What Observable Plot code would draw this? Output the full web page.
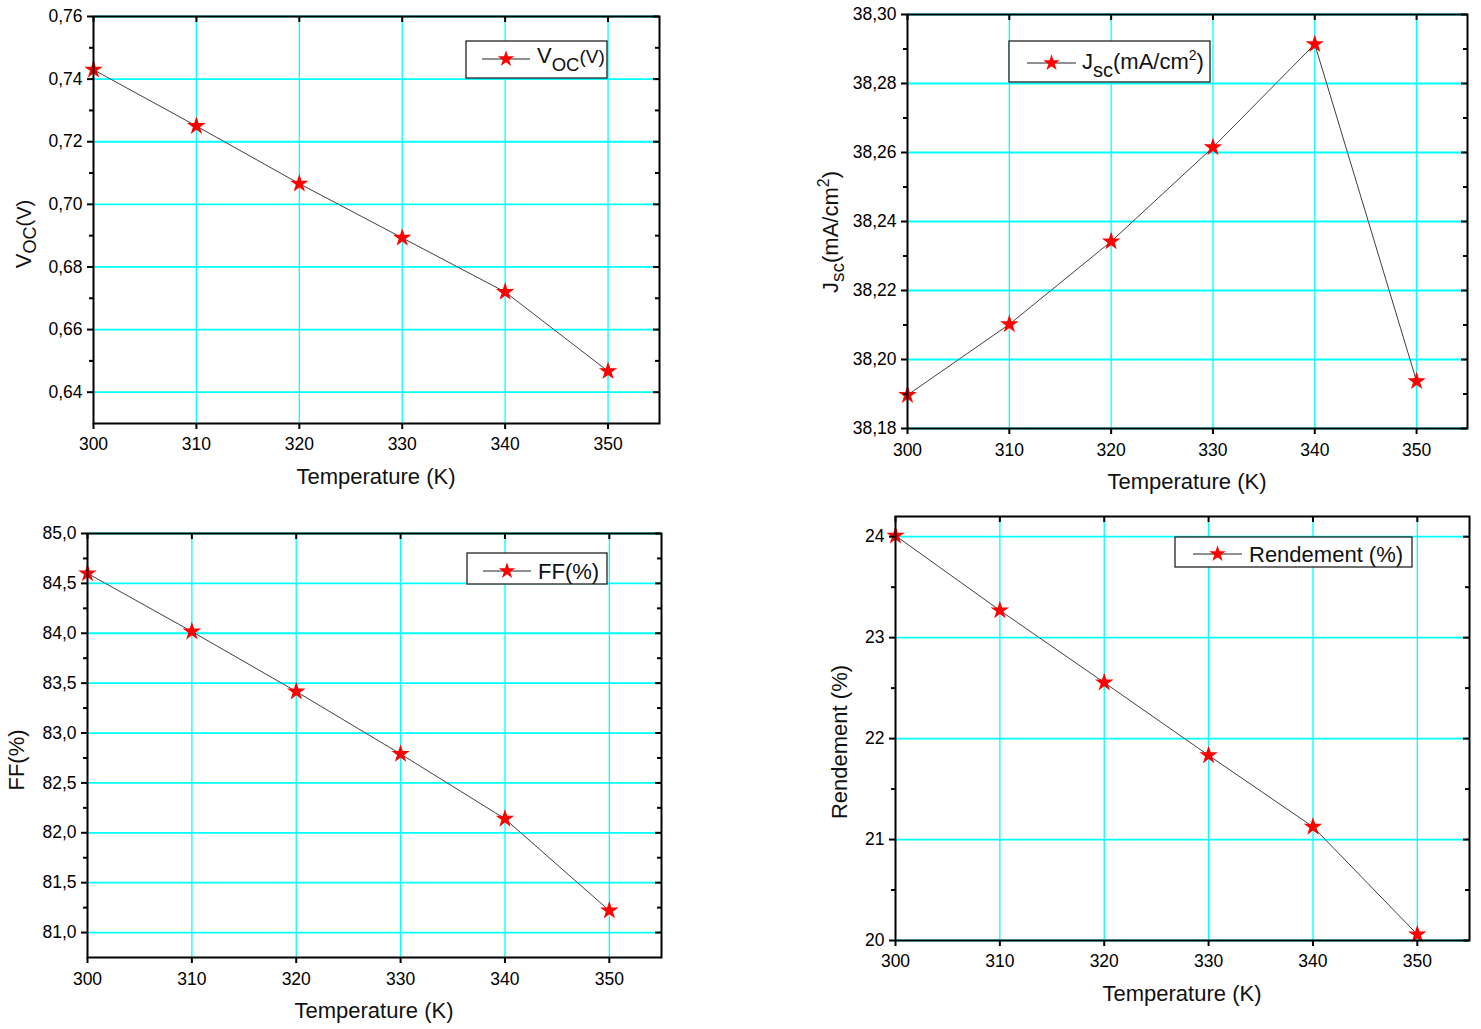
<!DOCTYPE html>
<html><head><meta charset="utf-8">
<script src="https://cdn.jsdelivr.net/npm/d3@7"></script>
<script src="https://cdn.jsdelivr.net/npm/@observablehq/plot@0.6"></script>
<style>
body{margin:0;background:#fff;}
#page{position:relative;width:1481px;height:1029px;overflow:hidden;background:#fff;}
.panel{position:absolute;}
.panel svg{overflow:visible;}
</style></head><body><div id="page"></div>
<script>
// ---- data ----
const temperatures = [300, 310, 320, 330, 340, 350];
const vocValues = [0.743, 0.725, 0.7066, 0.6893, 0.672, 0.6467];
const jscValues = [38.1897, 38.2102, 38.2342, 38.2615, 38.2914, 38.1937];
const ffValues = [84.60, 84.017, 83.416, 82.79, 82.14, 81.22];
const rendementValues = [24.01, 23.27, 22.555, 21.834, 21.126, 20.06];

const xTicks = [300, 310, 320, 330, 340, 350];
const vocTicks = [0.64, 0.66, 0.68, 0.70, 0.72, 0.74, 0.76];
const vocMinor = [0.65, 0.67, 0.69, 0.71, 0.73, 0.75];
const jscTicks = [38.18, 38.20, 38.22, 38.24, 38.26, 38.28, 38.30];
const jscMinor = [38.19, 38.21, 38.23, 38.25, 38.27, 38.29];
const ffTicks = [81.0, 81.5, 82.0, 82.5, 83.0, 83.5, 84.0, 84.5, 85.0];
const ffMinor = [81.25, 81.75, 82.25, 82.75, 83.25, 83.75, 84.25, 84.75];
const rendTicks = [20, 21, 22, 23, 24];
const rendMinor = [20.5, 21.5, 22.5, 23.5];

const FONT = '"Liberation Sans", Arial, Helvetica, sans-serif';
const GRID = "#00ffff";
const xDomain = [300, 355];

const comma = (digits) => (d) => d.toFixed(digits).replace(".", ",");

const panels = [
  {
    values: vocValues, yDomain: [0.63, 0.76], yTicks: vocTicks, yMinor: vocMinor, fmt: comma(2), xPad: 8,
    box: {left: 0, top: 0, width: 740, height: 500, ml: 93, mt: 16, mr: 81, mb: 77},
    yTitle: {x: 31, y: 234, parts: [{t: "V", s: 22}, {t: "OC", s: 18, b: 5}, {t: "(V)", s: 20, b: 0}]},
    legend: {x: 466, y: 41, w: 141, h: 37, lineY: 59, x1: 482, x2: 530, tx: 537, ty: 63,
      parts: [{t: "V", s: 22}, {t: "OC", s: 18.5, b: 8}, {t: "(V)", s: 19, b: 0}]}
  },
  {
    values: jscValues, yDomain: [38.18, 38.30], yTicks: jscTicks, yMinor: jscMinor, fmt: comma(2), xPad: 9,
    box: {left: 740, top: 0, width: 741, height: 505, ml: 167, mt: 14, mr: 14, mb: 77},
    yTitle: {x: 838, y: 232, parts: [{t: "J", s: 22}, {t: "sc", s: 19, b: 6}, {t: "(mA/cm", s: 22, b: 0}, {t: "2", s: 16, b: -9}, {t: ")", s: 22, b: 0}]},
    legend: {x: 1009, y: 41, w: 201, h: 41, lineY: 63, x1: 1027, x2: 1076, tx: 1082, ty: 69,
      parts: [{t: "J", s: 22}, {t: "sc", s: 20, b: 8}, {t: "(mA/cm", s: 22, b: 0}, {t: "2", s: 14, b: -9}, {t: ")", s: 22, b: 0}]}
  },
  {
    values: ffValues, yDomain: [80.75, 85.0], yTicks: ffTicks, yMinor: ffMinor, fmt: comma(1), xPad: 9,
    box: {left: 0, top: 505, width: 740, height: 524, ml: 87, mt: 28, mr: 79, mb: 72},
    yTitle: {x: 24, y: 760, parts: [{t: "FF(%)", s: 22}]},
    legend: {x: 467, y: 553, w: 140, h: 31, lineY: 571, x1: 483, x2: 531, tx: 538, ty: 579,
      parts: [{t: "FF(%)", s: 22}]}
  },
  {
    values: rendementValues, yDomain: [20, 24.2], yTicks: rendTicks, yMinor: rendMinor, fmt: (d) => String(d), xPad: 8,
    box: {left: 740, top: 505, width: 741, height: 524, ml: 155, mt: 11, mr: 12, mb: 89},
    yTitle: {x: 847, y: 742, parts: [{t: "Rendement (%)", s: 22}]},
    legend: {x: 1175, y: 537, w: 237, h: 30, lineY: 554, x1: 1193, x2: 1242, tx: 1249, ty: 562,
      parts: [{t: "Rendement (%)", s: 22}]}
  }
];

function addRich(textSel, parts) {
  let prev = 0;
  parts.forEach((p) => {
    const b = p.b || 0;
    textSel.append("tspan").attr("font-size", p.s).attr("dy", b - prev).text(p.t);
    prev = b;
  });
}

const page = document.getElementById("page");

panels.forEach((P) => {
  const B = P.box;
  const innerW = B.width - B.ml - B.mr;
  const innerH = B.height - B.mt - B.mb;
  const data = temperatures.map((T, i) => ({T, v: P.values[i]}));

  const svg = Plot.plot({
    width: B.width, height: B.height,
    marginLeft: B.ml, marginTop: B.mt, marginRight: B.mr, marginBottom: B.mb,
    style: {fontFamily: FONT, fontSize: "17.5px", color: "#000", background: "transparent", overflow: "visible"},
    x: {domain: xDomain, label: null},
    y: {domain: P.yDomain, label: null},
    marks: [
      Plot.gridX(xTicks.filter((t) => t > 300), {stroke: GRID, strokeOpacity: 1, strokeWidth: 1.3}),
      Plot.gridY(P.yTicks, {stroke: GRID, strokeOpacity: 1, strokeWidth: 1.8}),
      Plot.line(data, {x: "T", y: "v", stroke: "#404040", strokeWidth: 1}),
      Plot.dot(data, {x: "T", y: "v", symbol: "star", fill: "#ff0000", stroke: "none", r: 5.8}),
      // inward ticks on top and right
      Plot.tickX(xTicks, {x: (d) => d, insetBottom: innerH - 6, stroke: "#000", strokeWidth: 2}),
      Plot.tickY(P.yTicks, {y: (d) => d, insetLeft: innerW - 6, stroke: "#000", strokeWidth: 2}),
      Plot.tickY(P.yMinor, {y: (d) => d, insetLeft: innerW - 4, stroke: "#000", strokeWidth: 2}),
      // outward axes on bottom and left
      Plot.axisX(xTicks, {tickSize: 6, tickPadding: P.xPad, tickFormat: (d) => String(d), label: null, strokeWidth: 2}),
      Plot.axisY(P.yTicks, {tickSize: 6, tickPadding: 5, tickFormat: P.fmt, label: null, strokeWidth: 2}),
      Plot.axisY(P.yMinor, {tickSize: 4, tickFormat: () => "", label: null, strokeWidth: 2}),
      Plot.frame({stroke: "#000", strokeWidth: 2})
    ]
  });

  const div = document.createElement("div");
  div.className = "panel";
  div.style.left = B.left + "px";
  div.style.top = B.top + "px";
  div.appendChild(svg);
  page.appendChild(div);

  const s = d3.select(svg);
  const ox = B.left, oy = B.top;

  // x title
  s.append("text")
    .attr("x", B.ml + innerW / 2).attr("y", B.height - B.mb + 61)
    .attr("text-anchor", "middle").attr("font-family", FONT).attr("font-size", 22).attr("fill", "#111")
    .text("Temperature (K)");

  // y title
  const yt = s.append("text")
    .attr("transform", `translate(${P.yTitle.x - ox},${P.yTitle.y - oy}) rotate(-90)`)
    .attr("text-anchor", "middle").attr("font-family", FONT).attr("fill", "#111");
  addRich(yt, P.yTitle.parts);

  // legend
  const L = P.legend;
  const g = s.append("g");
  g.append("rect").attr("x", L.x - ox).attr("y", L.y - oy).attr("width", L.w).attr("height", L.h)
    .attr("fill", "#fff").attr("stroke", "#222").attr("stroke-width", 1.3);
  g.append("line").attr("x1", L.x1 - ox).attr("x2", L.x2 - ox).attr("y1", L.lineY - oy).attr("y2", L.lineY - oy)
    .attr("stroke", "#222").attr("stroke-width", 1);
  g.append("path")
    .attr("d", d3.symbol(d3.symbolStar, Math.PI * 5.2 * 5.2)())
    .attr("transform", `translate(${(L.x1 + L.x2) / 2 - ox},${L.lineY - oy})`)
    .attr("fill", "#ff0000");
  const lt = g.append("text").attr("x", L.tx - ox).attr("y", L.ty - oy)
    .attr("text-anchor", "start")
    .attr("font-family", FONT).attr("fill", "#111");
  addRich(lt, L.parts);
});
</script>
</body></html>
